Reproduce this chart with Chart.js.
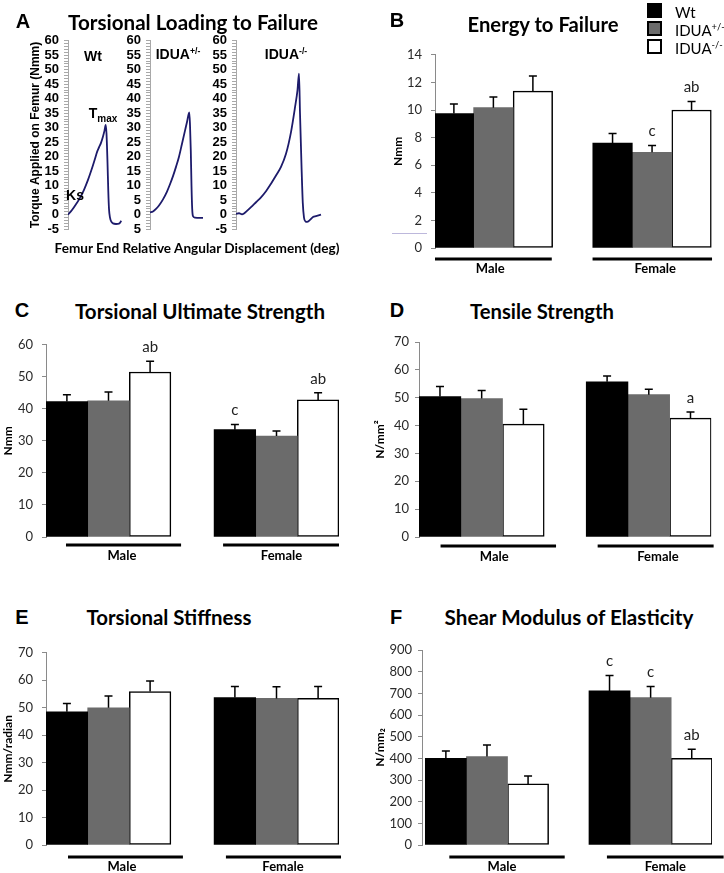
<!DOCTYPE html>
<html><head><meta charset="utf-8">
<script src="https://cdn.jsdelivr.net/npm/chart.js@4.4.1/dist/chart.umd.min.js"></script>
<style>
html,body{margin:0;padding:0;background:#fff;}
#fig{position:relative;width:724px;height:873px;overflow:hidden;background:#fff;}
#fig canvas{position:absolute;}
.t{position:absolute;white-space:nowrap;transform:translate(-50%,-50%);line-height:1;color:#000;}
.letter{font-family:"Liberation Sans",Arial,sans-serif;font-weight:bold;font-size:20px;}
.title{font-family:Lato,"Open Sans",sans-serif;font-weight:bold;font-size:19px;}
.ann{font-family:"Liberation Sans",Arial,sans-serif;font-weight:bold;font-size:14px;}
.leg{font-family:Lato,"Open Sans",sans-serif;font-size:15px;transform:translate(0,-50%);}
.sq{position:absolute;box-sizing:border-box;}
sup{font-size:0.62em;vertical-align:0.55em;line-height:0;}
</style></head>
<body><div id="fig"></div>
<script>
// ---------------- DATA ----------------
const groups = ['Male', 'Female'];
const seriesNames = ['Wt', 'IDUA+/-', 'IDUA-/-'];

// A: torsional loading curves (angular displacement, torque Nmm)
const torqueTicks = [-5, 0, 5, 10, 15, 20, 25, 30, 35, 40, 45, 50, 55, 60];
const wtAngle  = [0, 4, 8, 12, 16, 20, 24, 27, 29, 31, 33, 35, 36.5, 37.7, 38.5, 39.5, 40.3, 41, 42, 43.5, 45, 48, 51, 53.3];
const wtTorque = [0, 1.6, 3.6, 5.8, 8.6, 12, 16, 19.3, 21.6, 23.2, 24.8, 27, 29, 31, 28, 18, 8, 2, -1, -2.5, -3, -3.2, -3.1, -2.1];
const hetAngle  = [0, 3, 6, 9, 13, 17, 20, 23, 26, 29, 32, 35, 37, 39.3, 40, 40.8, 41.5, 42.2, 43, 45, 50, 53];
const hetTorque = [0.8, 1.1, 2, 3.2, 5.3, 8, 10.5, 13.3, 16.5, 20, 24.5, 29, 32, 35.3, 31, 22, 10, 2, -0.5, -1.0, -1.1, -1.1];
const koAngle  = [0, 3, 6, 8, 11, 15, 20, 25, 30, 35, 40, 45, 50, 55, 59, 61.5, 63, 64, 65.5, 66.8, 68, 69.5, 71, 74, 77, 80, 85];
const koTorque = [0.3, 0.5, 0.1, 0.4, 1.3, 2.6, 4.3, 6, 8.1, 10.7, 13.5, 16.5, 21, 28.5, 37, 43, 48.7, 35, 17, 4, -1, -2.3, -2.5, -1.8, -0.8, -0.5, 0];

// B: Energy to failure (Nmm) [Male, Female]
const energyTicks = [0, 2, 4, 6, 8, 10, 12, 14];
const energyWt  = [9.74, 7.61];
const energyHet = [10.17, 6.94];
const energyKo  = [11.37, 10.0];
const energyWtErr  = [0.69, 0.69];
const energyHetErr = [0.77, 0.48];
const energyKoErr  = [1.10, 0.62];
const energyWtSig  = ['', ''];
const energyHetSig = ['', 'c'];
const energyKoSig  = ['', 'ab'];

// C: Torsional ultimate strength (Nmm)
const strengthTicks = [0, 10, 20, 30, 40, 50, 60];
const strengthWt  = [42.3, 33.5];
const strengthHet = [42.5, 31.5];
const strengthKo  = [51.5, 42.8];
const strengthWtErr  = [2.1, 1.6];
const strengthHetErr = [2.8, 1.6];
const strengthKoErr  = [3.4, 2.2];
const strengthWtSig  = ['', 'c'];
const strengthHetSig = ['', ''];
const strengthKoSig  = ['ab', 'ab'];

// D: Tensile strength (N/mm2)
const tensileTicks = [0, 10, 20, 30, 40, 50, 60, 70];
const tensileWt  = [50.4, 55.7];
const tensileHet = [49.7, 51.1];
const tensileKo  = [40.5, 42.7];
const tensileWtErr  = [3.6, 2.1];
const tensileHetErr = [2.9, 1.9];
const tensileKoErr  = [5.4, 2.2];
const tensileWtSig  = ['', ''];
const tensileHetSig = ['', ''];
const tensileKoSig  = ['', 'a'];

// E: Torsional stiffness (Nmm/radian)
const stiffTicks = [0, 10, 20, 30, 40, 50, 60, 70];
const stiffWt  = [48.5, 53.7];
const stiffHet = [50.0, 53.4];
const stiffKo  = [55.9, 53.4];
const stiffWtErr  = [3.0, 4.0];
const stiffHetErr = [4.3, 4.2];
const stiffKoErr  = [3.8, 4.3];
const stiffWtSig  = ['', ''];
const stiffHetSig = ['', ''];
const stiffKoSig  = ['', ''];

// F: Shear modulus of elasticity (N/mm2)
const shearTicks = [0, 100, 200, 300, 400, 500, 600, 700, 800, 900];
const shearWt  = [400, 711];
const shearHet = [408, 680];
const shearKo  = [282, 400];
const shearWtErr  = [34, 71];
const shearHetErr = [54, 51];
const shearKoErr  = [36, 42];
const shearWtSig  = ['', 'c'];
const shearHetSig = ['', 'c'];
const shearKoSig  = ['', 'ab'];

// ---------------- RENDER ----------------
const fig = document.getElementById('fig');

function addText(html, x, y, cls, targetW) {
  const d = document.createElement('div');
  d.className = 't ' + cls;
  d.innerHTML = html;
  d.style.left = x + 'px';
  d.style.top = y + 'px';
  fig.appendChild(d);
  if (targetW) {
    const fs = parseFloat(getComputedStyle(d).fontSize);
    const w = d.getBoundingClientRect().width;
    d.style.fontSize = (fs * targetW / w).toFixed(2) + 'px';
  }
  return d;
}

function addCanvas(cx, cy, cw, ch) {
  const cv = document.createElement('canvas');
  cv.width = cw; cv.height = ch;
  cv.style.left = cx + 'px'; cv.style.top = cy + 'px';
  cv.style.width = cw + 'px'; cv.style.height = ch + 'px';
  fig.appendChild(cv);
  return cv;
}

const barExtras = {
  id: 'barExtras',
  afterDatasetsDraw(chart, args, o) {
    const {ctx, scales: {x, y}, chartArea} = chart;
    ctx.save();
    ctx.strokeStyle = '#000';
    ctx.fillStyle = '#222';
    ctx.lineWidth = 1.5;
    ctx.font = '15px Lato';
    ctx.textAlign = 'center';
    ctx.textBaseline = 'middle';
    chart.data.datasets.forEach((ds, di) => {
      const meta = chart.getDatasetMeta(di);
      meta.data.forEach((bar, i) => {
        const v = ds.data[i].y;
        const yBar = y.getPixelForValue(v);
        const yTop = y.getPixelForValue(v + ds.err[i]);
        ctx.beginPath();
        ctx.moveTo(bar.x, yBar); ctx.lineTo(bar.x, yTop);
        ctx.moveTo(bar.x - o.cap, yTop); ctx.lineTo(bar.x + o.cap, yTop);
        ctx.stroke();
        if (ds.sig[i]) ctx.fillText(ds.sig[i], bar.x, yTop - o.sigGap);
      });
    });
    ctx.lineWidth = 3;
    ctx.lineCap = 'butt';
    const yy = chartArea.bottom + o.underlineGap;
    o.underlines.forEach(([a, b]) => {
      ctx.beginPath();
      ctx.moveTo(x.getPixelForValue(a), yy);
      ctx.lineTo(x.getPixelForValue(b), yy);
      ctx.stroke();
    });
    ctx.restore();
  }
};

function makeBarPanel(p) {
  const cv = addCanvas(p.cx, p.cy, p.cw, p.ch);
  const fills = ['#000000', '#6b6b6b', '#ffffff'];
  const bws = [0, 0, 1.5];
  const datasets = p.series.map((s, k) => ({
    label: seriesNames[k],
    data: s[0].map((v, i) => ({x: i, y: v})),
    err: s[1], sig: s[2],
    backgroundColor: fills[k], borderColor: '#000', borderWidth: bws[k],
    borderSkipped: false, barThickness: p.barW
  }));
  new Chart(cv, {
    type: 'bar',
    data: {datasets},
    options: {
      responsive: false, animation: false, devicePixelRatio: 1,
      layout: {padding: {left: 0, top: p.plotTop - p.cy, right: p.cx + p.cw - p.plotRight, bottom: 0}},
      plugins: {
        legend: {display: false}, tooltip: {enabled: false},
        barExtras: {cap: 4, sigGap: 14, underlineGap: p.underlineGap, underlines: p.underlines}
      },
      scales: {
        x: {
          type: 'linear', min: p.xMin, max: p.xMax, offset: false,
          grid: {display: false, drawTicks: false}, border: {display: false},
          afterBuildTicks: s => { s.ticks = p.labelPos.map(v => ({value: v})); },
          afterFit: s => { s.height = p.cy + p.ch - p.plotBottom; },
          ticks: {autoSkip: false, maxRotation: 0, padding: p.labelPad, color: '#000',
                  font: {family: 'Lato', weight: 'bold', size: 13},
                  callback: (v, i) => groups[i]}
        },
        y: {
          type: 'linear', min: 0, max: p.ticks[p.ticks.length - 1],
          afterBuildTicks: s => { s.ticks = p.ticks.map(v => ({value: v})); },
          afterFit: s => { s.width = p.axisX - p.cx; },
          grid: {drawOnChartArea: false, tickLength: 4, color: '#8a8a8a'},
          border: {color: '#8a8a8a', width: 1},
          ticks: {padding: p.tickPad + 1, color: '#2a2a2a', font: {family: 'Lato', size: 13}},
          title: {display: true, text: p.yTitle, padding: 0, color: '#000',
                  font: {family: 'Lato', weight: 'bold', size: 12}}
        }
      }
    },
    plugins: [barExtras]
  });
}

const torqueMinor = [];
for (let v = -5; v <= 60; v++) torqueMinor.push(v);

function makeTorque(p) {
  const cv = addCanvas(p.cx, p.cy, p.cw, p.ch);
  new Chart(cv, {
    type: 'line',
    data: {datasets: [{
      data: p.angle.map((a, i) => ({x: a, y: p.torque[i]})),
      borderColor: '#1d1b6b', borderWidth: 1.8, pointRadius: 0,
      cubicInterpolationMode: 'monotone', fill: false
    }]},
    options: {
      responsive: false, animation: false, devicePixelRatio: 1,
      layout: {padding: {left: 0, top: p.plotTop - p.cy, right: p.cx + p.cw - p.plotRight, bottom: p.cy + p.ch - p.plotBottom}},
      plugins: {legend: {display: false}, tooltip: {enabled: false}},
      scales: {
        x: {type: 'linear', display: false, min: 0, max: p.xMax},
        y: {
          type: 'linear', min: -5, max: 60,
          afterBuildTicks: s => { s.ticks = torqueMinor.map(v => ({value: v})); },
          afterFit: s => { s.width = p.axisX - p.cx; },
          grid: {drawOnChartArea: false, tickLength: 4, color: '#a8a8a8'},
          border: {color: '#a8a8a8', width: 1},
          ticks: {autoSkip: false, padding: 5, color: '#000',
                  font: {family: 'Liberation Sans', weight: 'bold', size: 13},
                  callback: v => torqueTicks.includes(v) ? (p.dropMinus && v < 0 ? String(-v) : String(v)) : ''},
          title: p.yTitle ? {display: true, text: p.yTitle, padding: 0, color: '#000',
                  font: {family: 'Liberation Sans', weight: 'bold', size: 12}} : {display: false}
        }
      }
    }
  });
}

// Panel A
makeTorque({cx: 28, cy: 28, cw: 98, ch: 214, axisX: 68, plotTop: 40, plotBottom: 232, plotRight: 122,
  xMax: 54, angle: wtAngle, torque: wtTorque, yTitle: 'Torque Applied on Femur (Nmm)'});
makeTorque({cx: 118, cy: 28, cw: 90, ch: 214, axisX: 150, plotTop: 40, plotBottom: 232, plotRight: 204,
  xMax: 54, angle: hetAngle, torque: hetTorque, dropMinus: true});
makeTorque({cx: 204, cy: 28, cw: 122, ch: 214, axisX: 236, plotTop: 40, plotBottom: 232, plotRight: 322,
  xMax: 86, angle: koAngle, torque: koTorque});

// Panel B
makeBarPanel({cx: 391, cy: 38, cw: 333, ch: 242, axisX: 435, plotTop: 53, plotBottom: 248, plotRight: 712,
  xMin: -0.368, xMax: 1.3778, barW: 39.5, ticks: energyTicks, tickPad: 8, yTitle: 'Nmm',
  labelPos: [-0.02, 1.02], labelPad: 13, underlineGap: 11,
  underlines: [[-0.368, 0.368], [0.625, 1.378]],
  series: [[energyWt, energyWtErr, energyWtSig], [energyHet, energyHetErr, energyHetSig], [energyKo, energyKoErr, energyKoSig]]});

// Panel C
makeBarPanel({cx: 1, cy: 328, cw: 350, ch: 241, axisX: 46, plotTop: 342, plotBottom: 537, plotRight: 339,
  xMin: -0.372, xMax: 1.372, barW: 41.6, ticks: strengthTicks, tickPad: 8, yTitle: 'Nmm',
  labelPos: [0.08, 1.03], labelPad: 11, underlineGap: 8,
  underlines: [[-0.253, 0.432], [0.682, 1.372]],
  series: [[strengthWt, strengthWtErr, strengthWtSig], [strengthHet, strengthHetErr, strengthHetSig], [strengthKo, strengthKoErr, strengthKoSig]]});

// Panel D
makeBarPanel({cx: 373, cy: 328, cw: 351, ch: 241, axisX: 419, plotTop: 342, plotBottom: 537, plotRight: 711.3,
  xMin: -0.375, xMax: 1.374, barW: 41.7, ticks: tensileTicks, tickPad: 5, yTitle: 'N/mm\u00B2',
  labelPos: [0.075, 1.055], labelPad: 12, underlineGap: 9,
  underlines: [[-0.246, 0.445], [0.694, 1.388]],
  series: [[tensileWt, tensileWtErr, tensileWtSig], [tensileHet, tensileHetErr, tensileHetSig], [tensileKo, tensileKoErr, tensileKoSig]]});

// Panel E
makeBarPanel({cx: 1, cy: 636, cw: 350, ch: 237, axisX: 46, plotTop: 650, plotBottom: 845, plotRight: 339,
  xMin: -0.372, xMax: 1.372, barW: 41.6, ticks: stiffTicks, tickPad: 8, yTitle: 'Nmm/radian',
  labelPos: [0.08, 1.039], labelPad: 14, underlineGap: 12,
  underlines: [[-0.241, 0.443], [0.699, 1.384]],
  series: [[stiffWt, stiffWtErr, stiffWtSig], [stiffHet, stiffHetErr, stiffHetSig], [stiffKo, stiffKoErr, stiffKoSig]]});

// Panel F
makeBarPanel({cx: 373, cy: 636, cw: 351, ch: 237, axisX: 422, plotTop: 650, plotBottom: 845, plotRight: 712,
  xMin: -0.397, xMax: 1.375, barW: 41.1, ticks: shearTicks, tickPad: 5, yTitle: 'N/mm\u2082',
  labelPos: [0.092, 1.09], labelPad: 14, underlineGap: 12,
  underlines: [[-0.23, 0.475], [0.733, 1.446]],
  series: [[shearWt, shearWtErr, shearWtSig], [shearHet, shearHetErr, shearHetSig], [shearKo, shearKoErr, shearKoSig]]});

// Panel letters and titles
addText('A', 23, 21, 'letter');
addText('B', 397, 20, 'letter');
addText('C', 22, 310, 'letter');
addText('D', 397, 310, 'letter');
addText('E', 22, 617, 'letter');
addText('F', 396, 617, 'letter');
addText('Torsional Loading to Failure', 193, 22, 'title', 250);
addText('Energy to Failure', 543, 24, 'title', 151);
addText('Torsional Ultimate Strength', 200, 311, 'title', 250);
addText('Tensile Strength', 542, 311, 'title', 144);
addText('Torsional Stiffness', 169, 617, 'title', 165);
addText('Shear Modulus of Elasticity', 569, 617, 'title', 249);

// Panel A annotations
addText('Wt', 93, 56, 'ann');
addText('IDUA<sup>+/-</sup>', 178, 54, 'ann');
addText('IDUA<sup>-/-</sup>', 286, 54, 'ann');
addText('T<span style="font-size:10px;vertical-align:-4px">max</span>', 103, 115, 'ann');
addText('Ks', 75, 195, 'ann');
addText('Femur End Relative Angular Displacement (deg)', 197, 249, 'title', 285);

// Legend
const legItems = [
  {y: 10, bg: '#000', border: '0px solid #000', html: 'Wt'},
  {y: 28, bg: '#6b6b6b', border: '2px solid #000', html: 'IDUA<sup>+/-</sup>'},
  {y: 46, bg: '#fff', border: '2.5px solid #000', html: 'IDUA<sup>-/-</sup>'}
];
legItems.forEach(it => {
  const s = document.createElement('div');
  s.className = 'sq';
  s.style.left = '647px'; s.style.top = (it.y - 7.5) + 'px';
  s.style.width = '15px'; s.style.height = '15px';
  s.style.background = it.bg; s.style.border = it.border;
  fig.appendChild(s);
  const t = document.createElement('div');
  t.className = 't leg';
  t.innerHTML = it.html;
  t.style.left = '675px'; t.style.top = (it.y + 2) + 'px';
  fig.appendChild(t);
});

// stray hairline in panel B
const hl = document.createElement('div');
hl.style.cssText = 'position:absolute;left:392px;top:233px;width:35px;height:1px;background:#bdb8dc;';
fig.appendChild(hl);
</script>
</body></html>
